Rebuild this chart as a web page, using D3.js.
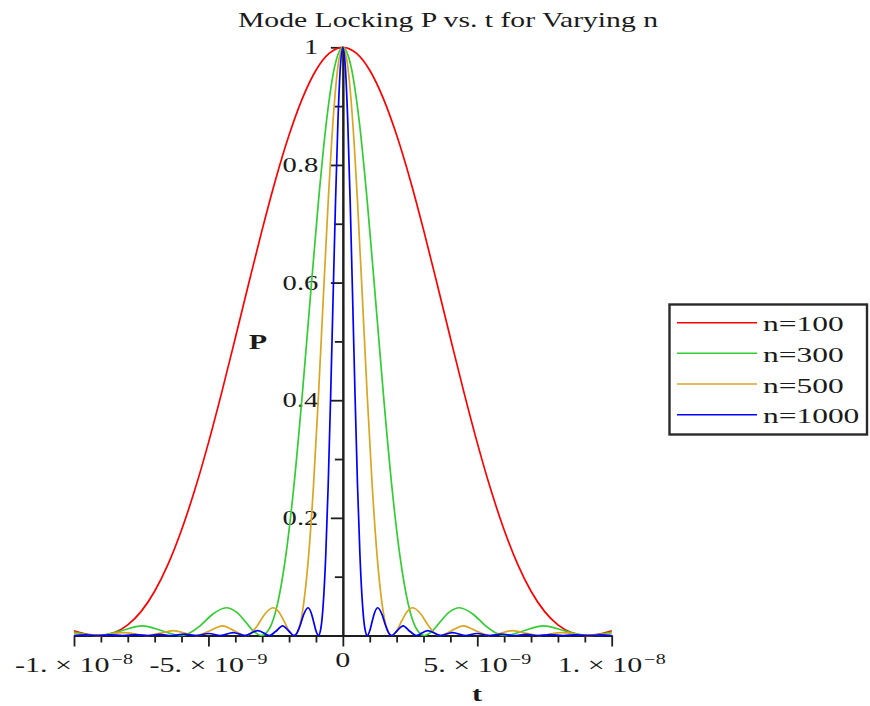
<!DOCTYPE html>
<html><head><meta charset="utf-8">
<script src="https://cdn.jsdelivr.net/npm/d3@7"></script>
<style>
body{margin:0;background:#fff}
svg{display:block}
text{font-family:"Liberation Serif","Times New Roman",serif;fill:#1a1a1a}
</style>
</head><body>
<svg id="chart" width="870" height="706"></svg>
<script>
// ---------- data (t in units of 1e-9 s) ----------
const seriesNames  = ["n=100", "n=300", "n=500", "n=1000"];
const seriesColors = ["#ff0000", "#32cd32", "#daa520", "#0000ff"];

const tN100 = [-10,-9.5,-9,-8.5,-8,-7.5,-7,-6.5,-6,-5.5,-5,-4.5,-4,-3.5,-3,-2.5,-2,-1.5,-1,-0.5,0,
               0.5,1,1.5,2,2.5,3,3.5,4,4.5,5,5.5,6,6.5,7,7.5,8,8.5,9,9.5,10];
const pN100 = [0.0078,0.0018,0.0001,0.0049,0.0181,0.0410,0.0752,0.1214,0.1795,0.2485,0.3275,0.4142,0.5058,0.5988,0.6900,0.7754,0.8508,0.9136,0.9610,0.9900,1,
               0.9900,0.9610,0.9136,0.8508,0.7754,0.6900,0.5988,0.5058,0.4142,0.3275,0.2485,0.1795,0.1214,0.0752,0.0410,0.0181,0.0049,0.0001,0.0018,0.0078];

const tN300 = [-10,-9.099,-8.341,-7.461,-6.673,-6.066,-5.763,-5.308,-4.853,-4.337,-3.943,-3.640,-3.336,-3.033,-2.730,-2.426,-2.123,-1.820,-1.517,-1.213,-0.910,-0.607,-0.303,0,
               0.303,0.607,0.910,1.213,1.517,1.820,2.123,2.426,2.730,3.033,3.336,3.640,3.943,4.337,4.853,5.308,5.763,6.066,6.673,7.461,8.341,9.099,10];
const pN300 = [0.0060,0,0.0067,0.0165,0.0072,0,0.0027,0.0165,0.0358,0.0472,0.0392,0.0243,0.0080,0,0.0119,0.0547,0.1353,0.2546,0.4053,0.5728,0.7368,0.8751,0.9675,1,
               0.9675,0.8751,0.7368,0.5728,0.4053,0.2546,0.1353,0.0547,0.0119,0,0.0080,0.0243,0.0392,0.0472,0.0358,0.0165,0.0027,0,0.0072,0.0165,0.0067,0,0.0060];

const tN500 = [-10,-9.100,-8.154,-7.280,-6.825,-6.315,-5.824,-5.460,-5.005,-4.477,-4.004,-3.640,-3.458,-3.185,-2.912,-2.603,-2.366,-2.184,-2.002,-1.820,-1.638,-1.456,-1.274,-1.092,-0.910,-0.728,-0.546,-0.364,-0.182,0,
               0.182,0.364,0.546,0.728,0.910,1.092,1.274,1.456,1.638,1.820,2.002,2.184,2.366,2.603,2.912,3.185,3.458,3.640,4.004,4.477,5.005,5.460,5.824,6.315,6.825,7.280,8.154,9.100,10];
const pN500 = [0.0034,0,0.0050,0,0.0036,0.0083,0.0034,0,0.0067,0.0165,0.0072,0,0.0027,0.0165,0.0358,0.0472,0.0392,0.0243,0.0080,0,0.0119,0.0547,0.1353,0.2546,0.4053,0.5728,0.7368,0.8751,0.9675,1,
               0.9675,0.8751,0.7368,0.5728,0.4053,0.2546,0.1353,0.0547,0.0119,0,0.0080,0.0243,0.0392,0.0472,0.0358,0.0165,0.0027,0,0.0072,0.0165,0.0067,0,0.0034,0.0083,0.0036,0,0.0050,0,0.0034];

const tN1000 = [-10,-9.546,-9.100,-8.636,-8.190,-7.726,-7.280,-6.816,-6.370,-5.897,-5.460,-4.987,-4.550,-4.077,-3.640,-3.158,-2.730,-2.503,-2.239,-2.002,-1.820,-1.729,-1.593,-1.456,-1.301,-1.183,-1.092,-1.001,-0.910,-0.819,-0.728,-0.637,-0.546,-0.455,-0.364,-0.273,-0.182,-0.091,0,
                0.091,0.182,0.273,0.364,0.455,0.546,0.637,0.728,0.819,0.910,1.001,1.092,1.183,1.301,1.456,1.593,1.729,1.820,2.002,2.239,2.503,2.730,3.158,3.640,4.077,4.550,4.987,5.460,5.897,6.370,6.816,7.280,7.726,8.190,8.636,9.100,9.546,10];
const pN1000 = [0,0.0009,0,0.0011,0,0.0014,0,0.0018,0,0.0024,0,0.0034,0,0.0050,0,0.0083,0,0.0067,0.0165,0.0072,0,0.0027,0.0165,0.0358,0.0472,0.0392,0.0243,0.0080,0,0.0119,0.0547,0.1353,0.2546,0.4053,0.5728,0.7368,0.8751,0.9675,1,
                0.9675,0.8751,0.7368,0.5728,0.4053,0.2546,0.1353,0.0547,0.0119,0,0.0080,0.0243,0.0392,0.0472,0.0358,0.0165,0.0027,0,0.0072,0.0165,0.0067,0,0.0083,0,0.0050,0,0.0034,0,0.0024,0,0.0018,0,0.0014,0,0.0011,0,0.0009,0];

const seriesT = [tN100, tN300, tN500, tN1000];
const seriesP = [pN100, pN300, pN500, pN1000];

const xMajorTicks    = [-10, -5, 0, 5, 10];
const xTickMantissa  = ["-1.", "-5.", "0", "5.", "1."];
const xTickExponent  = ["\u22128", "\u22129", "", "\u22129", "\u22128"];
const xMinorTicks    = [-9,-8,-7,-6,-4,-3,-2,-1,1,2,3,4,6,7,8,9];
const yMajorTicks    = [0.2, 0.4, 0.6, 0.8, 1];
const yTickLabels    = ["0.2", "0.4", "0.6", "0.8", "1"];
const yMinorTicks    = [0.1, 0.3, 0.5, 0.7, 0.9];
const titleText = "Mode Locking P vs. t for Varying n";
const xLabelText = "t";
const yLabelText = "P";

// ---------- layout ----------
const SX = 1.43; // horizontal glyph stretch of the original rendering
const svg = d3.select("#chart");
const x = d3.scaleLinear().domain([-10, 10]).range([74, 611.7]);
const y = d3.scaleLinear().domain([0, 1]).range([635.5, 47.3]);

// axes
function styleAxis(g){
  g.select(".domain").attr("stroke","#1e1e1e").attr("stroke-width",2);
  g.selectAll(".tick line").attr("stroke","#1e1e1e").attr("stroke-width",1.8);
  g.selectAll(".tick text").remove();
}
svg.append("g").attr("transform",`translate(0,${y(0)})`)
  .call(d3.axisBottom(x).tickValues(xMinorTicks).tickSize(7).tickSizeOuter(0).tickFormat(""))
  .call(styleAxis);
svg.append("g").attr("transform",`translate(0,${y(0)})`)
  .call(d3.axisBottom(x).tickValues(xMajorTicks).tickSize(11).tickSizeOuter(0).tickFormat(""))
  .call(styleAxis);
svg.append("g").attr("transform",`translate(${x(0)},0)`)
  .call(d3.axisLeft(y).tickValues(yMinorTicks).tickSize(8).tickSizeOuter(0).tickFormat(""))
  .call(styleAxis);
svg.append("g").attr("transform",`translate(${x(0)},0)`)
  .call(d3.axisLeft(y).tickValues(yMajorTicks).tickSize(12).tickSizeOuter(0).tickFormat(""))
  .call(styleAxis);

// x tick labels
xMajorTicks.forEach((v,i)=>{
  const hasExp = xTickExponent[i] !== "";
  const t = svg.append("text")
    .attr("text-anchor","middle")
    .attr("font-size",21)
    .attr("transform",`translate(${x(v)},${hasExp ? 671.5 : 667}) scale(${SX},1)`);
  if(hasExp){
    t.append("tspan").text(xTickMantissa[i] + " \u00d7 10");
    t.append("tspan").attr("font-size",14).attr("dy",-7.5).attr("dx",1.5).text(xTickExponent[i]);
  } else {
    t.append("tspan").text(xTickMantissa[i]);
  }
});

// y tick labels
yMajorTicks.forEach((v,i)=>{
  svg.append("text")
    .attr("text-anchor","end")
    .attr("font-size",20)
    .attr("transform",`translate(${x(0)-24.5},${y(v)+7}) scale(${SX},1)`)
    .text(yTickLabels[i]);
});

// axis titles
svg.append("text").attr("text-anchor","middle").attr("font-size",21).attr("font-weight","bold")
  .attr("transform",`translate(258,349) scale(${SX},1)`).text(yLabelText);
svg.append("text").attr("text-anchor","middle").attr("font-size",21).attr("font-weight","bold")
  .attr("transform",`translate(477,701) scale(${SX},1)`).text(xLabelText);

// title
svg.append("text").attr("x",448).attr("y",27).attr("text-anchor","middle")
  .attr("font-size",21).attr("textLength",420).attr("lengthAdjust","spacingAndGlyphs")
  .text(titleText);

// curves
const line = d3.line().x(d=>x(d[0])).y(d=>y(d[1])).curve(d3.curveMonotoneX);
seriesT.forEach((ts,k)=>{
  const pts = ts.map((t,i)=>[t, seriesP[k][i]]);
  svg.append("path").datum(pts)
    .attr("fill","none").attr("stroke",seriesColors[k]).attr("stroke-width",1.7)
    .attr("stroke-linejoin","round")
    .attr("d",line);
});

// legend
const lg = svg.append("g");
lg.append("rect").attr("x",669.5).attr("y",304.5).attr("width",197.5).attr("height",130)
  .attr("fill","#fff").attr("stroke","#2a2a2a").attr("stroke-width",2.4);
const legendRows = [322.7, 353.2, 384, 414.8];
seriesNames.forEach((name,k)=>{
  lg.append("line").attr("x1",677).attr("x2",757).attr("y1",legendRows[k]).attr("y2",legendRows[k])
    .attr("stroke",seriesColors[k]).attr("stroke-width",1.6);
  lg.append("text").attr("font-size",22)
    .attr("transform",`translate(763,${legendRows[k]+8.5}) scale(${SX},1)`)
    .text(name);
});
</script>
</body></html>
